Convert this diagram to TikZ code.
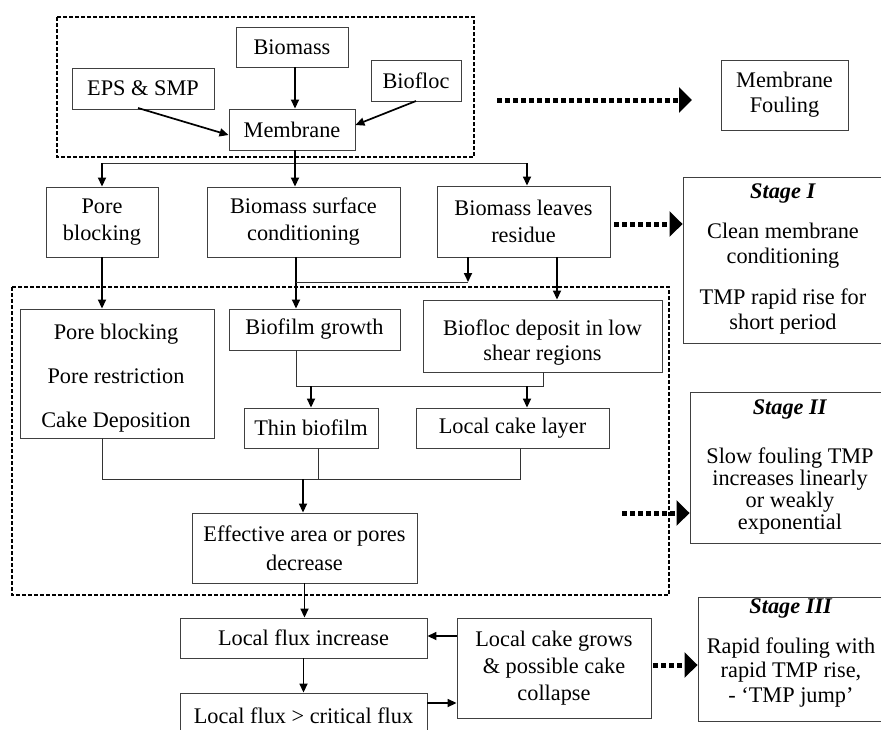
\documentclass[tikz,border=0pt]{standalone}
\usepackage{fontspec}
\setmainfont{Liberation Serif}
\usetikzlibrary{arrows.meta}
\newcommand\fszA{\fontsize{22.3}{27}\selectfont}
\begin{document}
\begin{tikzpicture}[x=1pt,y=-1pt,
  box/.style={draw=black!75, line width=0.9pt, inner sep=0pt, align=center, font=\fszA},
  txt/.style={inner sep=0pt, align=center},
  arr/.style={line width=1.7pt, -{Triangle[length=9pt,width=8pt]}},
  arrline/.style={line width=1.7pt},
  thinline/.style={draw=black!80, line width=0.9pt},
  fat/.style={line width=5pt, dash pattern=on 5pt off 3pt, -{Triangle[length=13pt,width=25pt]}},
  dbox/.style={line width=1.3pt, dash pattern=on 4pt off 2pt}]
\useasboundingbox (0,0) rectangle (881,729);
% top group
\draw[dbox] (57,17) rectangle (474,157);
\node[box, minimum width=112pt, minimum height=40pt] (biomass) at (292,47) {Biomass};
\node[box, minimum width=142pt, minimum height=41pt] (eps) at (143,88.5) {EPS \& SMP};
\node[box, minimum width=90pt, minimum height=41pt] (biofloc) at (416,80.5) {Biofloc};
\node[box, minimum width=126pt, minimum height=41pt] (membrane) at (292,129.5) {Membrane};
\node[box, minimum width=127pt, minimum height=70pt, font={\fontsize{22.3}{25}\selectfont}] (mfoul) at (784.5,95) {Membrane\\Fouling};
\coordinate (xb) at (295,0);
\draw[arr] (biomass.south -| xb) -- (membrane.north -| xb);
\draw[arr] (138,108) -- (membrane.west |- 0,135);
\draw[arr] (416,101) -- (membrane.east |- 0,125);
\coordinate (f1) at (497,100);
\coordinate (f2) at (692,100);
\draw[fat] (f1) -- (f2);
% second row
\node[box, minimum width=112pt, minimum height=70pt] (porebl) at (102,222) {Pore\\blocking};
\node[box, minimum width=193pt, minimum height=70pt] (bsc) at (303.5,222) {Biomass surface\\conditioning};
\node[box, minimum width=173pt, minimum height=71pt] (blr) at (523.5,221.5) {Biomass leaves\\residue};
\coordinate (jm) at (295,163);
\coordinate (jl) at (102,163);
\coordinate (jr) at (527,163);
\draw[arrline] (membrane.south -| jm) -- (jm);
\draw[thinline] (jl) -- (jr);
\draw[arr] (jl) -- (jl |- porebl.north);
\draw[arr] (jm) -- (jm |- bsc.north);
\draw[arr] (jr) -- (jr |- blr.north);
% stage I
\node[box, minimum width=200pt, minimum height=166pt] (stage1) at (783,260) {};
\node[txt, anchor=north, font={\fontsize{22.3}{25}\selectfont}] (stage1t) at (783,184)
  {\textbf{\textit{Stage I}}\\[15pt]Clean membrane\\conditioning\\[16pt]TMP rapid rise for\\short period};
\coordinate (s1) at (614,224);
\draw[fat] (s1) -- (s1 -| stage1.west);
% lower dashed group
\draw[dbox] (12,287) rectangle (669,595);
\node[box, minimum width=194pt, minimum height=129pt] (pb2) at (117,373.5) {};
\node[txt, font={\fontsize{22.3}{25}\selectfont}] (pb2t) at (116,378)
  {Pore blocking\\[19pt]Pore restriction\\[19pt]Cake Deposition};
\node[box, minimum width=171pt, minimum height=41pt] (bgrowth) at (314.5,329.5) {Biofilm growth};
\node[box, minimum width=239pt, minimum height=72pt] (bdep) at (542.5,336) {};
\node[txt, font={\fontsize{22.3}{25}\selectfont}] (bdept) at (542.5,343) {Biofloc deposit in low\\shear regions};
\draw[arr] (porebl.south) -- (porebl.south |- pb2.north);
\coordinate (cb) at (296,282);
\coordinate (cr) at (468,282);
\coordinate (cd) at (557,0);
\draw[arr] (bsc.south -| cb) -- (bgrowth.north -| cb);
\draw[arr] (blr.south -| cr) -- (cr);
\draw[thinline] (cr) -- (cb);
\draw[arr] (blr.south -| cd) -- (bdep.north -| cd);
\node[box, minimum width=134pt, minimum height=40pt] (thin) at (311,428) {Thin biofilm};
\node[box, minimum width=193pt, minimum height=40pt] (lcl) at (512.5,428) {Local cake layer};
\coordinate (k1) at (296,386);
\coordinate (k2) at (543,386);
\coordinate (k4) at (527,386);
\draw[thinline] (bgrowth.south -| k1) -- (k1) -- (k2) -- (bdep.south -| k2);
\draw[arr] (thin.north |- k1) -- (thin.north);
\draw[arr] (k4) -- (k4 |- lcl.north);
\node[box, minimum width=225pt, minimum height=70pt, font={\fontsize{22.3}{29}\selectfont}] (eff) at (304.5,548) {Effective area or pores\\decrease};
\coordinate (m1) at (102,479);
\coordinate (m2) at (318,479);
\coordinate (m3) at (520,479);
\coordinate (m0) at (303,479);
\draw[thinline] (pb2.south -| m1) -- (m1) -- (m3) -- (lcl.south -| m3);
\draw[thinline] (thin.south -| m2) -- (m2);
\draw[arr] (m0) -- (m0 |- eff.north);
% stage II
\node[box, minimum width=200pt, minimum height=151pt] (stage2) at (790,467.5) {};
\node[txt, anchor=north, font={\fontsize{22.3}{22}\selectfont}] (stage2t) at (790,400)
  {\textbf{\textit{Stage II}}\\[27pt]Slow fouling TMP\\increases linearly\\or weakly\\exponential};
\coordinate (s2) at (622,513);
\draw[fat] (s2) -- (s2 -| stage2.west);
% bottom
\node[box, minimum width=247pt, minimum height=40pt] (lfi) at (303.5,638) {Local flux increase};
\node[box, minimum width=247pt, minimum height=46pt] (lfc) at (303.5,716) {Local flux > critical flux};
\node[box, minimum width=194pt, minimum height=100pt] (lcg) at (554,668) {Local cake grows\\\& possible cake\\collapse};
\draw[arr] (eff.south) -- (eff.south |- lfi.north);
\draw[arr] (lfi.south) -- (lfc.north);
\coordinate (ya) at (0,636);
\coordinate (yb) at (0,703);
\draw[arr] (lcg.west |- ya) -- (lfi.east |- ya);
\draw[arr] (lfc.east |- yb) -- (lcg.west |- yb);
% stage III
\node[box, minimum width=186pt, minimum height=124pt] (stage3) at (791,659) {};
\node[txt, anchor=north, font={\fontsize{22.3}{24.5}\selectfont}] (stage3t) at (791,599)
  {\textbf{\textit{Stage III}}\\[15pt]Rapid fouling with\\rapid TMP rise,\\- ‘TMP jump’};
\coordinate (s3) at (653,665);
\draw[fat] (s3) -- (s3 -| stage3.west);
\end{tikzpicture}
\end{document}
